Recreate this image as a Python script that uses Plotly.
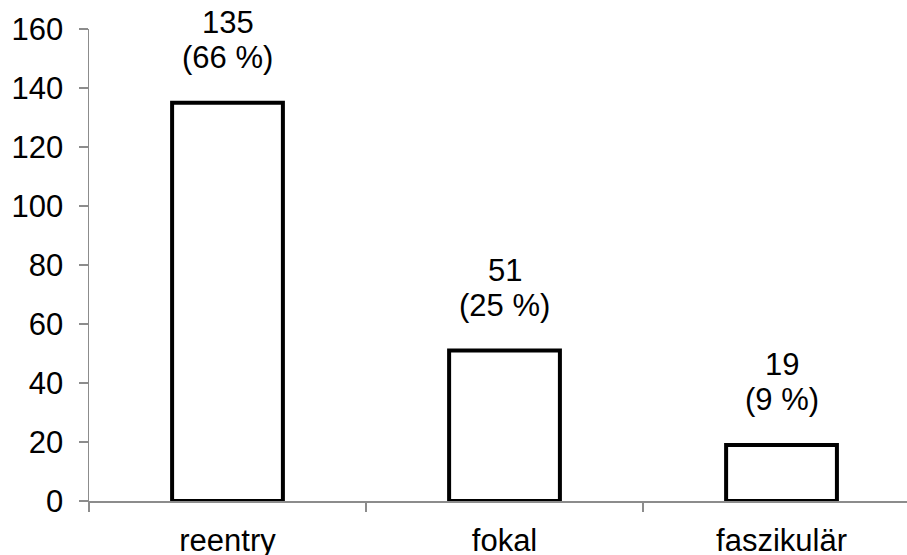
import plotly.graph_objects as go

categories = ["reentry", "fokal", "faszikulär"]
counts = [135, 51, 19]
percents = [66, 25, 9]
y_ticks = [0, 20, 40, 60, 80, 100, 120, 140, 160]

FONT = "Arial, Liberation Sans, sans-serif"
FS = 31

fig = go.Figure()
fig.add_trace(go.Bar(
    x=categories, y=counts, width=0.4,
    marker=dict(color="white", line=dict(color="black", width=4)),
    cliponaxis=False,
))

for c, v, p in zip(categories, counts, percents):
    fig.add_annotation(x=c, y=v, text=f"{v}", showarrow=False,
                       yanchor="middle", yshift=80,
                       font=dict(family=FONT, size=FS, color="black"))
    fig.add_annotation(x=c, y=v, text=f"({p} %)", showarrow=False,
                       yanchor="middle", yshift=45,
                       font=dict(family=FONT, size=FS, color="black"))

fig.update_layout(
    width=907, height=555,
    margin=dict(l=89, r=0, t=29, b=54, autoexpand=False),
    plot_bgcolor="white", paper_bgcolor="white",
    showlegend=False,
    font=dict(family=FONT, size=FS, color="black"),
)
fig.update_xaxes(
    type="category", range=[-0.5, 2.453], automargin=False,
    showline=True, linecolor="#8c8c8c", linewidth=1.5,
    ticks="outside", tickson="boundaries", ticklen=9, tickcolor="#8c8c8c", tickwidth=1.5,
    showgrid=False, zeroline=False,
    ticklabelstandoff=11,
    tickfont=dict(family=FONT, size=FS, color="black"),
)
fig.update_yaxes(
    range=[0, 160], tickvals=y_ticks, automargin=False,
    showline=True, linecolor="#8c8c8c", linewidth=1.5,
    ticks="outside", ticklen=9, tickcolor="#8c8c8c", tickwidth=1.5,
    showgrid=False, zeroline=False,
    ticklabelstandoff=9,
    tickfont=dict(family=FONT, size=FS, color="black"),
)

fig.write_html(
    "out.html",
    config={"displayModeBar": False, "staticPlot": True},
    post_script="document.body.style.margin='0';document.body.style.overflow='hidden';",
)
